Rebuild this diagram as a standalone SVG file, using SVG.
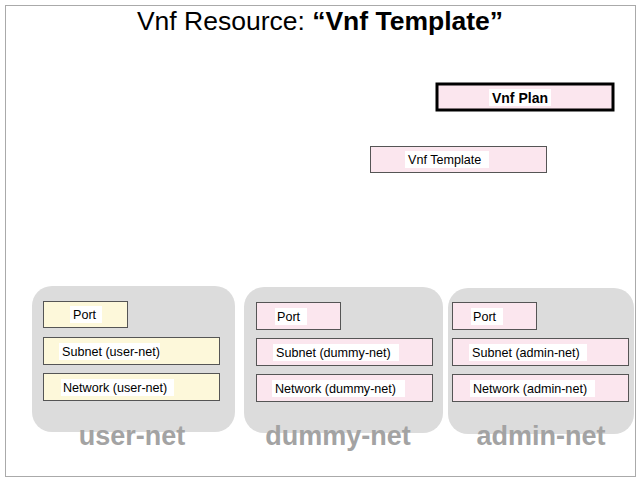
<svg xmlns="http://www.w3.org/2000/svg" width="640" height="480" viewBox="0 0 640 480">
<style>
text{font-family:"Liberation Sans",Arial,sans-serif;}
.lbl{font-size:12.6px;fill:#000;}
.bg{fill:#fff;}
.grp{fill:#dcdcdc;}
.gl{font-size:27px;font-weight:bold;fill:#a3a3a3;text-anchor:middle;}
.pink{fill:#fbe6ee;stroke:#555;stroke-width:1;}
.yel{fill:#fdf8da;stroke:#555;stroke-width:1;}
</style>
<rect x="5.5" y="5.5" width="630" height="471" fill="#fff" stroke="#aaa" stroke-width="1"/>
<g id="title">
<text x="320" y="30" font-size="26.5" text-anchor="middle"><tspan font-weight="300">Vnf Resource: </tspan><tspan font-weight="bold">“Vnf Template”</tspan></text>
</g>
<g id="vnf-plan">
<rect x="437" y="84" width="176" height="26" fill="#fbe6ee" stroke="#000" stroke-width="3"/>
<rect class="bg" x="489" y="89" width="62" height="17"/>
<text x="520" y="102.5" font-size="14" font-weight="bold" text-anchor="middle">Vnf Plan</text>
</g>
<g id="vnf-template">
<rect class="pink" x="370.5" y="146.5" width="176" height="26"/>
<rect class="bg" x="405" y="151" width="84" height="17"/>
<text class="lbl" x="408" y="164">Vnf Template</text>
</g>
<g id="user-net">
<rect class="grp" x="32" y="286" width="203" height="146" rx="20"/>
<text class="gl" x="132" y="445">user-net</text>
</g>
<g id="dummy-net">
<rect class="grp" x="244" y="287" width="199" height="146" rx="20"/>
<text class="gl" x="338" y="445">dummy-net</text>
</g>
<g id="admin-net">
<rect class="grp" x="448" y="288" width="186" height="146" rx="20"/>
<text class="gl" x="541" y="445">admin-net</text>
</g>
<g id="port-user">
<rect class="yel" x="43.5" y="301.5" width="84" height="26"/>
<rect class="bg" x="70" y="306" width="32" height="17"/>
<text class="lbl" x="73" y="319">Port</text>
</g>
<g id="subnet-user">
<rect class="yel" x="43.5" y="337.5" width="176" height="27"/>
<rect class="bg" x="59" y="343" width="101" height="17"/>
<text class="lbl" x="62" y="356">Subnet (user-net)</text>
</g>
<g id="network-user">
<rect class="yel" x="43.5" y="373.5" width="176" height="27"/>
<rect class="bg" x="61" y="379" width="113" height="17"/>
<text class="lbl" x="63" y="392">Network (user-net)</text>
</g>
<g id="port-dummy">
<rect class="pink" x="256.5" y="302.5" width="84" height="27"/>
<rect class="bg" x="275" y="308" width="32" height="17"/>
<text class="lbl" x="277" y="321">Port</text>
</g>
<g id="subnet-dummy">
<rect class="pink" x="256.5" y="338.5" width="176" height="27"/>
<rect class="bg" x="273" y="344" width="126" height="17"/>
<text class="lbl" x="276" y="357">Subnet (dummy-net)</text>
</g>
<g id="network-dummy">
<rect class="pink" x="256.5" y="374.5" width="176" height="27"/>
<rect class="bg" x="272" y="380" width="133" height="17"/>
<text class="lbl" x="275" y="393">Network (dummy-net)</text>
</g>
<g id="port-admin">
<rect class="pink" x="452.5" y="302.5" width="84" height="27"/>
<rect class="bg" x="471" y="308" width="32" height="17"/>
<text class="lbl" x="473" y="321">Port</text>
</g>
<g id="subnet-admin">
<rect class="pink" x="452.5" y="338.5" width="176" height="27"/>
<rect class="bg" x="469" y="344" width="118" height="17"/>
<text class="lbl" x="472" y="357">Subnet (admin-net)</text>
</g>
<g id="network-admin">
<rect class="pink" x="452.5" y="374.5" width="176" height="27"/>
<rect class="bg" x="470" y="380" width="125" height="17"/>
<text class="lbl" x="473" y="393">Network (admin-net)</text>
</g>
<g id="connectors"></g>
</svg>
